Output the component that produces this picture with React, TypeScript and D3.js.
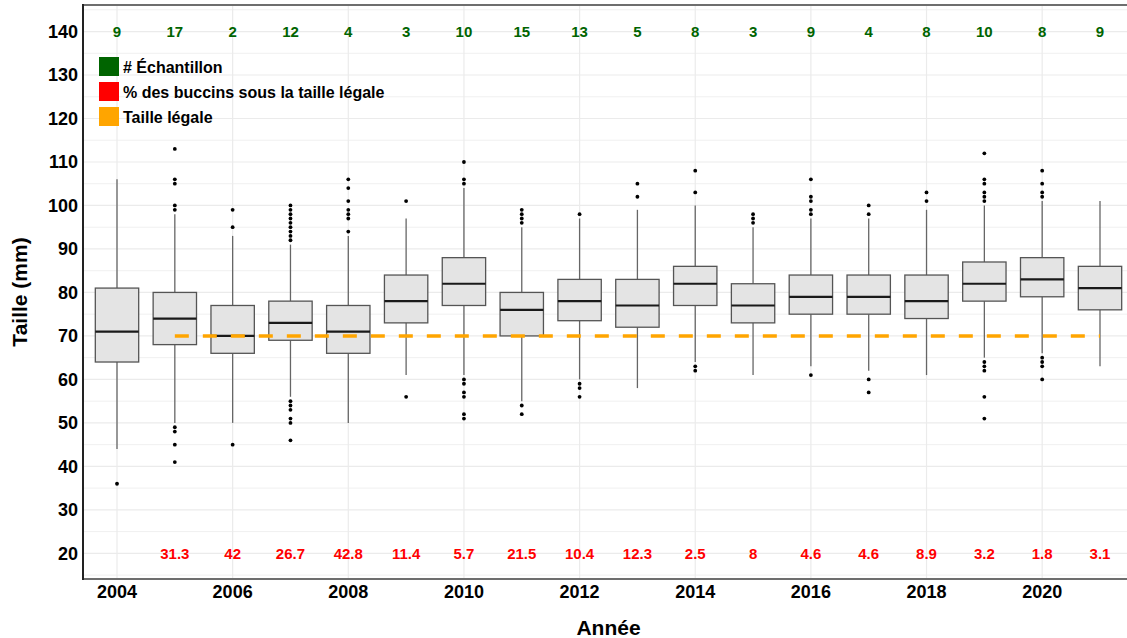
import React from "react";
import * as d3 from "d3";

const years = [2004, 2005, 2006, 2007, 2008, 2009, 2010, 2011, 2012, 2013, 2014, 2015, 2016, 2017, 2018, 2019, 2020, 2021];
const whiskerLow = [44, 50, 50, 56, 50, 61, 61, 55, 60, 58, 64, 61, 63, 62, 61, 65, 66, 63];
const q1 = [64, 68, 66, 69, 66, 73, 77, 70, 73.5, 72, 77, 73, 75, 75, 74, 78, 79, 76];
const median = [71, 74, 70, 73, 71, 78, 82, 76, 78, 77, 82, 77, 79, 79, 78, 82, 83, 81];
const q3 = [81, 80, 77, 78, 77, 84, 88, 80, 83, 83, 86, 82, 84, 84, 84, 87, 88, 86];
const whiskerHigh = [106, 98, 93, 91, 93, 97, 104, 95, 97, 99, 100, 95, 97, 97, 99, 100, 101, 101];
const outliers: number[][] = [
  [36],
  [113, 106, 105, 100, 99, 49, 48, 45, 41],
  [99, 95, 45],
  [100, 99, 98, 97, 96, 95, 94, 93, 92, 55, 54, 53, 51, 50, 46],
  [106, 104, 101, 99, 98, 97, 94],
  [101, 56],
  [110, 106, 105, 60, 59, 57, 56, 52, 51],
  [99, 98, 97, 96, 54, 52],
  [98, 59, 58, 56],
  [105, 102],
  [108, 103, 63, 62],
  [98, 97, 96],
  [106, 102, 101, 99, 98, 61],
  [100, 98, 60, 57],
  [103, 101],
  [112, 106, 105, 103, 102, 101, 64, 63, 62, 56, 51],
  [108, 105, 103, 102, 65, 64, 63, 60],
  [],
];
const sampleCounts = [9, 17, 2, 12, 4, 3, 10, 15, 13, 5, 8, 3, 9, 4, 8, 10, 8, 9];
const pctYears = [2005, 2006, 2007, 2008, 2009, 2010, 2011, 2012, 2013, 2014, 2015, 2016, 2017, 2018, 2019, 2020, 2021];
const pctLabels = ["31.3", "42", "26.7", "42.8", "11.4", "5.7", "21.5", "10.4", "12.3", "2.5", "8", "4.6", "4.6", "8.9", "3.2", "1.8", "3.1"];
const legalSize = 70;
const legalYears = [2005, 2021];
const yTicks = [20, 30, 40, 50, 60, 70, 80, 90, 100, 110, 120, 130, 140];
const xTicks = [2004, 2006, 2008, 2010, 2012, 2014, 2016, 2018, 2020];
const legendItems = [
  { label: "# Échantillon", color: "#006400" },
  { label: "% des buccins sous la taille légale", color: "#FF0000" },
  { label: "Taille légale", color: "#FFA500" },
];

const W = 1127;
const H = 638;
const FONT = "'Liberation Sans', Arial, sans-serif";

export default function App() {
  const left = 83, top = 5, bottom = 579;
  const x = d3.scaleLinear().domain([2003.412, 2021.588]).range([left, 1134]);
  const y = d3.scaleLinear().domain([14.1, 146.1]).range([bottom, top]);
  const halfW = (x(2004.375) - x(2004));
  const minorY = d3.range(15, 146, 10);
  const right = W;

  return (
    <svg width={W} height={H} style={{ position: "absolute", left: 0, top: 0, background: "#fff" }} fontFamily={FONT}>
      <rect x={0} y={0} width={W} height={H} fill="#fff" />
      {/* grid */}
      {minorY.map((v) => (
        <line key={"mn" + v} x1={left} x2={right} y1={y(v)} y2={y(v)} stroke="#f0f0f0" strokeWidth={1} />
      ))}
      {yTicks.map((v) => (
        <line key={"mj" + v} x1={left} x2={right} y1={y(v)} y2={y(v)} stroke="#ebebeb" strokeWidth={1.2} />
      ))}
      {xTicks.map((v) => (
        <line key={"xv" + v} x1={x(v)} x2={x(v)} y1={top} y2={bottom} stroke="#ebebeb" strokeWidth={1.2} />
      ))}
      {/* boxplots */}
      {years.map((yr, i) => {
        const cx = x(yr);
        return (
          <g key={yr}>
            <line x1={cx} x2={cx} y1={y(q3[i])} y2={y(whiskerHigh[i])} stroke="#666" strokeWidth={1.3} />
            <line x1={cx} x2={cx} y1={y(q1[i])} y2={y(whiskerLow[i])} stroke="#666" strokeWidth={1.3} />
            <rect x={cx - halfW} y={y(q3[i])} width={2 * halfW} height={y(q1[i]) - y(q3[i])} fill="#e4e4e4" stroke="#555" strokeWidth={1.3} />
            <line x1={cx - halfW} x2={cx + halfW} y1={y(median[i])} y2={y(median[i])} stroke="#1a1a1a" strokeWidth={2.2} />
            {outliers[i].map((o, j) => (
              <circle key={j} cx={cx} cy={y(o)} r={1.9} fill="#000" />
            ))}
          </g>
        );
      })}
      {/* legal size dashed line */}
      <line x1={x(legalYears[0])} x2={x(legalYears[1])} y1={y(legalSize)} y2={y(legalSize)} stroke="#FFA500" strokeWidth={3.5} strokeDasharray="14 14" />
      {/* sample counts */}
      {years.map((yr, i) => (
        <text key={"n" + yr} x={x(yr)} y={y(140)} dy="0.36em" textAnchor="middle" fontSize={15} fontWeight="bold" fill="#006400">
          {sampleCounts[i]}
        </text>
      ))}
      {/* percentages */}
      {pctYears.map((yr, i) => (
        <text key={"p" + yr} x={x(yr)} y={y(20)} dy="0.36em" textAnchor="middle" fontSize={15} fontWeight="bold" fill="#FF0000">
          {pctLabels[i]}
        </text>
      ))}
      {/* legend */}
      {legendItems.map((it, i) => (
        <g key={it.label}>
          <rect x={99} y={57 + i * 25} width={20} height={19} fill={it.color} />
          <text x={123} y={73 + i * 25} fontSize={16} fontWeight="bold" fill="#000">{it.label}</text>
        </g>
      ))}
      {/* panel lines */}
      <line x1={left} x2={right} y1={top} y2={top} stroke="#6e6e6e" strokeWidth={2} />
      <line x1={left} x2={right} y1={bottom} y2={bottom} stroke="#6e6e6e" strokeWidth={2} />
      <line x1={left} x2={left} y1={top - 1} y2={bottom + 1} stroke="#222" strokeWidth={2} />
      {/* y ticks */}
      {yTicks.map((v) => (
        <text key={"yt" + v} x={78} y={y(v)} dy="0.36em" textAnchor="end" fontSize={18} fontWeight="bold" fill="#000">
          {v}
        </text>
      ))}
      {/* x ticks */}
      {xTicks.map((v) => (
        <text key={"xt" + v} x={x(v)} y={598} textAnchor="middle" fontSize={18} fontWeight="bold" fill="#000">
          {v}
        </text>
      ))}
      {/* axis titles */}
      <text x={(left + 1134) / 2} y={635} textAnchor="middle" fontSize={21} fontWeight="bold" fill="#000">Année</text>
      <text transform={`translate(27, ${(top + bottom) / 2}) rotate(-90)`} textAnchor="middle" fontSize={21} fontWeight="bold" fill="#000">Taille (mm)</text>
    </svg>
  );
}
